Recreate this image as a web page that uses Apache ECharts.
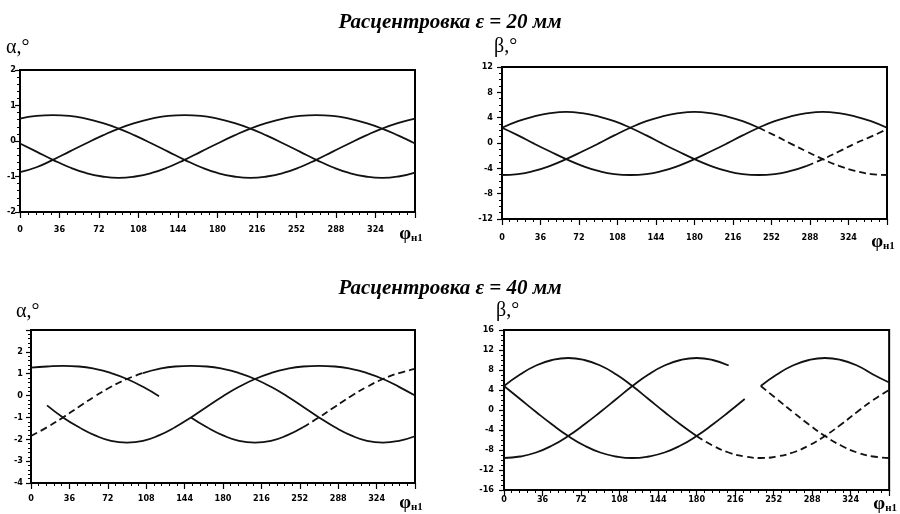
<!DOCTYPE html>
<html>
<head>
<meta charset="utf-8">
<title>Расцентровка</title>
<script src="https://cdn.jsdelivr.net/npm/echarts/dist/echarts.min.js"></script>
<style>
    html, body { margin: 0; padding: 0; background: #fff; }
    #container { width: 900px; height: 514px; }
</style>
</head>
<body>
<div id="container"></div>
<script>
// угол поворота, град
var phi = [0, 15, 30, 45, 60, 75, 90, 105, 120, 135, 150, 165, 180, 195, 210, 225, 240, 255, 270, 285, 300, 315, 330, 345, 360];

// альфа, эксцентриситет 20 мм
var alpha20_a = [0.63, 0.71, 0.73, 0.71, 0.63, 0.51, 0.35, 0.15, -0.07, -0.30, -0.53, -0.74, -0.90, -1.00, -1.04, -1.00, -0.90, -0.74, -0.53, -0.30, -0.07, 0.15, 0.35, 0.51, 0.63];
var alpha20_b = [-0.88, -0.74, -0.53, -0.30, -0.07, 0.15, 0.35, 0.51, 0.63, 0.71, 0.73, 0.71, 0.63, 0.51, 0.35, 0.15, -0.07, -0.30, -0.53, -0.74, -0.90, -1.00, -1.04, -1.00, -0.89];
var alpha20_c = [-0.07, -0.30, -0.53, -0.74, -0.90, -1.00, -1.04, -1.00, -0.90, -0.74, -0.53, -0.30, -0.07, 0.15, 0.35, 0.51, 0.63, 0.71, 0.73, 0.71, 0.63, 0.51, 0.35, 0.15, -0.07];

// бета, эксцентриситет 20 мм
var beta20_a = [-5.05, -4.9, -4.4, -3.6, -2.55, -1.35, -0.1, 1.2, 2.4, 3.45, 4.2, 4.7, 4.9, 4.7, 4.2, 3.45, 2.4, 1.2, -0.1, -1.35, -2.55, -3.6, -4.4, -4.9, -5.05];
var beta20_b = [2.4, 3.45, 4.2, 4.7, 4.9, 4.7, 4.2, 3.45, 2.4, 1.2, -0.1, -1.35, -2.55, -3.6, -4.4, -4.9, -5.05, -4.9, -4.4, -3.6, -2.55, -1.35, -0.1, 1.0, 2.2];
var beta20_c = [2.4, 1.2, -0.1, -1.35, -2.55, -3.6, -4.4, -4.9, -5.05, -4.9, -4.4, -3.6, -2.55, -1.35, -0.1, 1.2, 2.4, 3.45, 4.2, 4.7, 4.9, 4.7, 4.2, 3.45, 2.4];

// альфа, эксцентриситет 40 мм
var alpha40_a = [1.28, 1.33, 1.36, 1.33, 1.22, 1.03, 0.76, 0.40, -0.03, -0.51, -1.00, -1.45, -1.82, -2.07, -2.15, -2.07, -1.82, -1.45, -1.00, -0.51, -0.03, 0.40, 0.76, 1.03, 1.22];
var alpha40_b = [-1.85, -1.45, -1.00, -0.51, -0.03, 0.40, 0.76, 1.03, 1.22, 1.33, 1.36, 1.33, 1.22, 1.03, 0.76, 0.40, -0.03, -0.51, -1.00, -1.45, -1.82, -2.07, -2.15, -2.07, -1.86];
var alpha40_c = [0.10, -0.45, -1.00, -1.45, -1.82, -2.07, -2.15, -2.07, -1.82, -1.45, -1.00, -0.51, -0.03, 0.40, 0.76, 1.03, 1.22, 1.33, 1.36, 1.33, 1.22, 1.03, 0.76, 0.40, 0.00];

// бета, эксцентриситет 40 мм
var beta40_a = [-9.6, -9.3, -8.5, -7.1, -5.2, -2.9, -0.4, 2.2, 4.8, 7.1, 8.9, 10.0, 10.4, 10.0, 8.9, 7.1, 4.8, 2.2, -0.4, -2.9, -5.2, -7.1, -8.5, -9.3, -9.6];
var beta40_b = [4.8, 7.1, 8.9, 10.0, 10.4, 10.0, 8.9, 7.1, 4.8, 2.2, -0.4, -2.9, -5.2, -7.1, -8.5, -9.3, -9.6, -9.3, -8.5, -7.1, -5.2, -2.9, -0.4, 2.0, 4.0];
var beta40_c = [4.8, 2.2, -0.4, -2.9, -5.2, -7.1, -8.5, -9.3, -9.6, -9.3, -8.5, -7.1, -5.2, -2.9, -0.4, 2.2, 4.8, 7.1, 8.9, 10.0, 10.4, 10.0, 8.9, 7.1, 5.5];

var titles = ['Расцентровка ε = 20 мм', 'Расцентровка ε = 40 мм'];
var yNames = ['α,°', 'β,°', 'α,°', 'β,°'];

// куски линий: [от, до, 's' сплошная / 'd' штрих]
var panels = [
    {curves: [alpha20_a, alpha20_b, alpha20_c],
     pieces: [[[0, 360, 's']], [[0, 360, 's']], [[0, 360, 's']]]},
    {curves: [beta20_a, beta20_b, beta20_c],
     pieces: [[[0, 240, 's'], [240, 360, 'd']], [[0, 285, 's'], [285, 360, 'd']], [[0, 360, 's']]]},
    {curves: [alpha40_a, alpha40_b, alpha40_c],
     pieces: [[[0, 120, 's'], [150, 255, 's'], [255, 360, 'd']], [[0, 105, 'd'], [105, 360, 's']], [[15, 360, 's']]]},
    {curves: [beta40_a, beta40_b, beta40_c],
     pieces: [[[0, 210, 's'], [240, 360, 'd']], [[0, 180, 's'], [180, 360, 'd']], [[0, 225, 's'], [240, 360, 's']]]}
];

var grids = [
    {left: 20, top: 70, width: 395, height: 142},
    {left: 502, top: 67, width: 385, height: 152},
    {left: 31, top: 330, width: 384, height: 153},
    {left: 504, top: 330, width: 389, height: 160}
];
var yRange = [
    {min: -2, max: 2, interval: 1, minor: 5, margin: 4, showMax: true},
    {min: -12, max: 12, interval: 4, minor: 4, margin: 9, showMax: true},
    {min: -4, max: 3, interval: 1, minor: 5, margin: 8, showMax: false},
    {min: -16, max: 16, interval: 4, minor: 4, margin: 10, showMax: true}
];
var xMargin = [13, 14, 11, 5];
var namePos = [[22, 49], [510, 48], [32, 313], [512, 312]];

function piece(data, from, to) {
    var out = [];
    for (var i = 0; i < phi.length; i++) {
        if (phi[i] >= from && phi[i] <= to) out.push([phi[i], data[i]]);
    }
    return out;
}

var tickFont = '"Liberation Sans Narrow", "DejaVu Sans Condensed", sans-serif';

var xAxes = [], yAxes = [], series = [], graphics = [];

for (var g = 0; g < 4; g++) {
    xAxes.push({
        gridIndex: g, type: 'value', min: 0, max: 360, interval: 36,
        axisLine: {show: true, onZero: false, lineStyle: {color: '#000', width: 2}},
        axisTick: {show: true, length: 6, lineStyle: {color: '#000', width: 1.2}},
        minorTick: {show: true, splitNumber: 5, length: 3, lineStyle: {color: '#000', width: 1}},
        splitLine: {show: false},
        axisLabel: {
            margin: xMargin[g], color: '#000', fontSize: 9, fontWeight: 'bold',
            fontFamily: tickFont,
            formatter: function (v) { return v === 360 ? '{p|φ}{s|н1}' : String(v); },
            rich: {
                p: {fontSize: 19, fontFamily: '"Liberation Serif", serif', color: '#000'},
                s: {fontSize: 11, fontWeight: 'bold', fontFamily: '"Liberation Serif", serif', color: '#000',
                    verticalAlign: 'bottom', padding: [8, 8, 0, 0]}
            }
        }
    });
    var yr = yRange[g];
    yAxes.push({
        gridIndex: g, type: 'value', min: yr.min, max: yr.max, interval: yr.interval,
        axisLine: {show: true, onZero: false, lineStyle: {color: '#000', width: 2}},
        axisTick: {show: true, length: 5, lineStyle: {color: '#000', width: 1.2}},
        minorTick: {show: true, splitNumber: yr.minor, length: 3, lineStyle: {color: '#000', width: 1}},
        splitLine: {show: false},
        axisLabel: {margin: yr.margin, color: '#000', fontSize: 9, fontWeight: 'bold',
            fontFamily: tickFont, showMaxLabel: yr.showMax}
    });

    var p = panels[g];
    for (var c = 0; c < p.curves.length; c++) {
        for (var k = 0; k < p.pieces[c].length; k++) {
            var pc = p.pieces[c][k];
            series.push({
                type: 'line', xAxisIndex: g, yAxisIndex: g,
                data: piece(p.curves[c], pc[0], pc[1]),
                smooth: true, showSymbol: false, silent: true,
                lineStyle: {color: '#111', width: 1.8, type: pc[2] === 'd' ? [7, 4] : 'solid'}
            });
        }
    }

    graphics.push({
        type: 'text', left: namePos[g][0] - 16, top: namePos[g][1] - 11,
        style: {text: yNames[g], font: '20px "Liberation Serif", serif', fill: '#000'}
    });
}

graphics.push({
    type: 'text', left: 'center', top: 12,
    style: {text: titles[0], font: 'italic bold 21px "Liberation Serif", serif', fill: '#000'}
});
graphics.push({
    type: 'text', left: 'center', top: 278,
    style: {text: titles[1], font: 'italic bold 21px "Liberation Serif", serif', fill: '#000'}
});

var chart = echarts.init(document.getElementById('container'));
chart.setOption({
    animation: false,
    backgroundColor: '#fff',
    grid: grids.map(function (gr) {
        return {left: gr.left, top: gr.top, width: gr.width, height: gr.height,
            show: true, borderColor: '#000', borderWidth: 2};
    }),
    xAxis: xAxes,
    yAxis: yAxes,
    series: series,
    graphic: graphics
});
</script>
</body>
</html>
